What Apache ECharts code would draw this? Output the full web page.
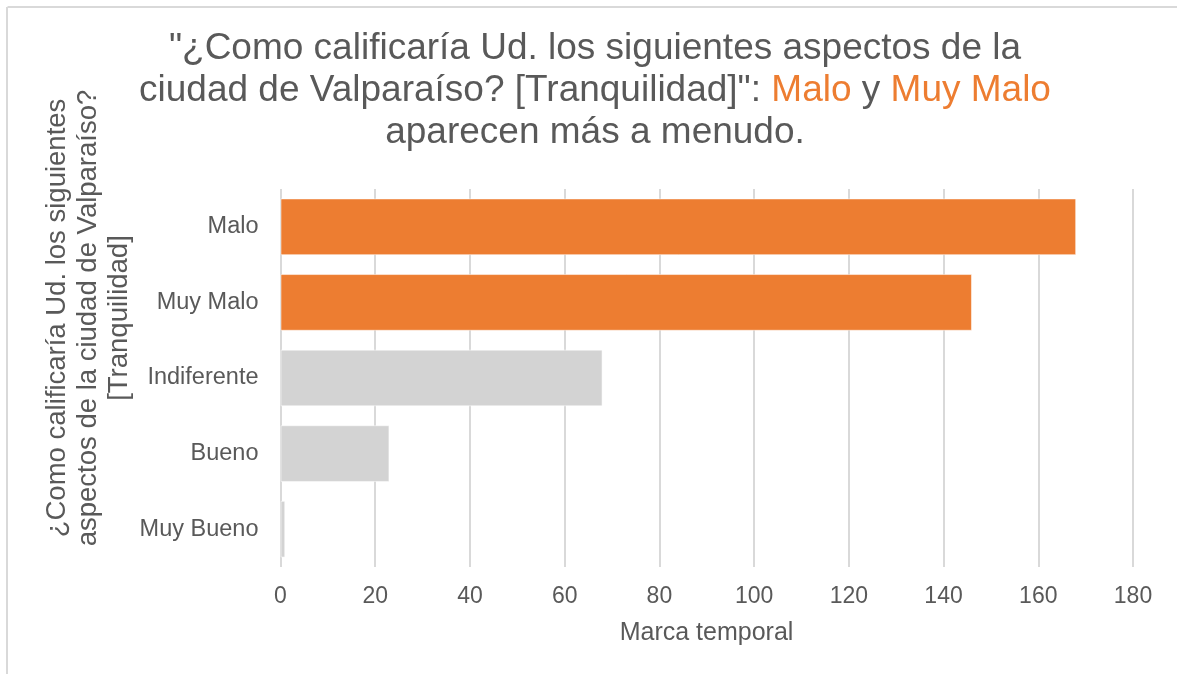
<!DOCTYPE html>
<html>
<head>
<meta charset="utf-8">
<script src="https://cdn.jsdelivr.net/npm/echarts@6/dist/echarts.min.js"></script>
<style>html,body{margin:0;padding:0;background:#fff}#c{width:1177px;height:674px}</style>
</head>
<body>
<div id="c"></div>
<script>
const categories = ['Malo', 'Muy Malo', 'Indiferente', 'Bueno', 'Muy Bueno'];
const values = [168, 146, 68, 23, 1];
const highlighted = ['Malo', 'Muy Malo'];
const xTicks = { min: 0, max: 180, interval: 20 };
const titleLines = ['"¿Como calificaría Ud. los siguientes aspectos de la', 'ciudad de Valparaíso? [Tranquilidad]": {o|Malo} y {o|Muy Malo}', 'aparecen más a menudo.'];
const yName = '¿Como calificaría Ud. los siguientes\naspectos de la ciudad de Valparaíso?\n[Tranquilidad]';
const xName = 'Marca temporal';

const ORANGE = '#ED7D31', GREY = '#D3D3D3', TEXT = '#595959', FONT = '"Liberation Sans", Arial, sans-serif';

const chart = echarts.init(document.getElementById('c'), null, { renderer: 'canvas' });
chart.setOption({
  animation: false,
  backgroundColor: '#fff',
  grid: { left: 280.5, right: 44, top: 189, bottom: 107, containLabel: false },
  xAxis: {
    type: 'value', min: xTicks.min, max: xTicks.max, interval: xTicks.interval,
    axisLine: { show: false }, axisTick: { show: false },
    splitLine: { show: true, lineStyle: { color: '#D9D9D9', width: 2 } },
    axisLabel: { color: TEXT, fontSize: 23, fontFamily: FONT, margin: 18 }
  },
  yAxis: {
    type: 'category', data: categories, inverse: true,
    axisLine: { show: false }, axisTick: { show: false },
    axisLabel: { color: TEXT, fontSize: 23.5, fontFamily: FONT, margin: 22 }
  },
  series: [{
    type: 'bar', barCategoryGap: '25%',
    data: values.map((v, i) => ({
      value: v,
      itemStyle: { color: highlighted.includes(categories[i]) ? ORANGE : GREY }
    })),
    itemStyle: { borderColor: 'rgba(255,255,255,0.5)', borderWidth: 1 }
  }],
  graphic: [
    { type: 'line', shape: { x1: 7.5, y1: 7, x2: 1177, y2: 7 }, style: { stroke: '#D9D9D9', lineWidth: 2 } },
    { type: 'line', shape: { x1: 7, y1: 7, x2: 7, y2: 674 }, style: { stroke: '#D9D9D9', lineWidth: 2 } },
    { type: 'text', x: 595, y: 28, style: {
        text: titleLines.join('\n'), fill: TEXT, fontSize: 37, fontFamily: FONT,
        align: 'center', verticalAlign: 'top', lineHeight: 42,
        rich: { o: { fill: ORANGE, fontSize: 37, fontFamily: FONT, lineHeight: 42 } }
    } },
    { type: 'text', x: 88, y: 318, rotation: Math.PI / 2, style: {
        text: yName, fill: TEXT, fontSize: 27.5, fontFamily: FONT, align: 'center', verticalAlign: 'middle', lineHeight: 31
    } },
    { type: 'text', x: 706.5, y: 633, style: {
        text: xName, fill: TEXT, fontSize: 25, fontFamily: FONT, align: 'center', verticalAlign: 'middle'
    } }
  ]
});
</script>
</body>
</html>
